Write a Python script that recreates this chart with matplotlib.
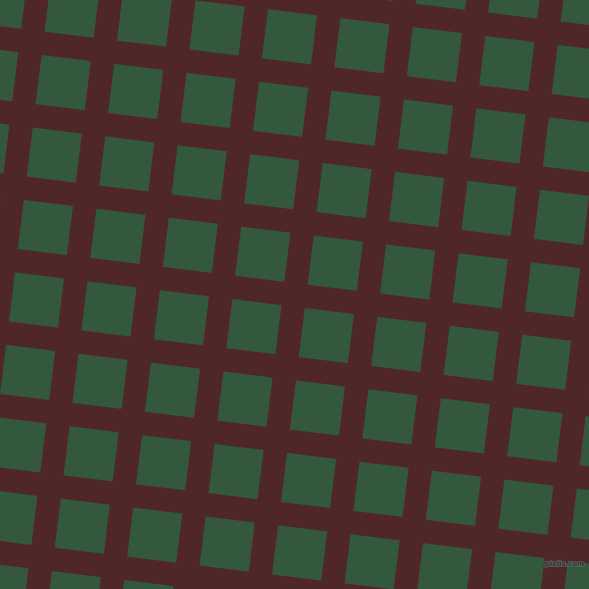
import numpy as np
import matplotlib.pyplot as plt
import matplotlib.patheffects as pe
from matplotlib.patches import Rectangle
from matplotlib.transforms import Affine2D

# colours of the pattern
bg_color = '#4f2729'
tile_color = '#34583c'

# grid of tiles (indices along the two tilted directions)
cols = list(range(-2, 10))
rows = list(range(-2, 10))

angle = 7.0      # tilt of the grid in degrees
pitch = 73.0     # distance between tile centres (px)
side = 49.5      # tile edge (px)
origin = (63.2, 82.6)  # centre of the tile at (0, 0)

W = H = 589
fig = plt.figure(figsize=(W / 100, H / 100), dpi=100)
ax = fig.add_axes([0, 0, 1, 1])
ax.set_xlim(0, W)
ax.set_ylim(H, 0)
ax.axis('off')
ax.add_patch(Rectangle((0, 0), W, H, color=bg_color, zorder=0))

t = np.radians(angle)
u = np.array([np.cos(t), np.sin(t)])
v = np.array([-np.sin(t), np.cos(t)])

for i in cols:
    for j in rows:
        c = np.array(origin) + i * pitch * u + j * pitch * v
        sq = Rectangle((c[0] - side / 2, c[1] - side / 2), side, side,
                       facecolor=tile_color, edgecolor='none', zorder=1)
        sq.set_transform(Affine2D().rotate_deg_around(c[0], c[1], angle) + ax.transData)
        ax.add_patch(sq)

# little watermark in the corner
ax.text(565, 564, 'pixlis.com', fontsize=5, fontweight='bold', color='#2a2a2a',
        alpha=0.75, ha='center', va='center', zorder=2,
        path_effects=[pe.withStroke(linewidth=1.2, foreground='#6a6a6a')])

fig.savefig('out.png', dpi=100)
